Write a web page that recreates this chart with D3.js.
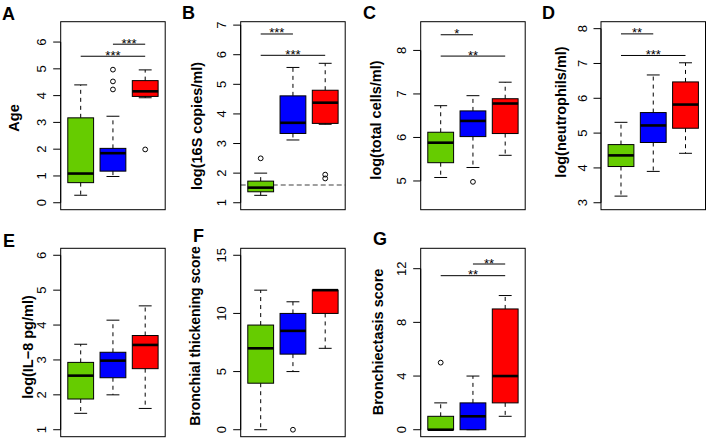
<!DOCTYPE html>
<html><head><meta charset="utf-8">
<script src="https://cdn.jsdelivr.net/npm/d3@7/dist/d3.min.js"></script>
<style>
body{margin:0;background:#fff}
svg{display:block}
text{font-family:"Liberation Sans",Arial,Helvetica,sans-serif}
</style>
</head><body>
<svg id="chart" width="708" height="440"></svg>
<script>
// ---- data ----
const groupColors = ["#66cc00", "#0000ff", "#ff0000"];
const groups = [1, 2, 3];

// box stats per group: [whisker low, Q1, median, Q3, whisker high]
const ageStats = [[0.28, 0.75, 1.09, 3.17, 4.40], [0.98, 1.18, 1.85, 2.03, 3.23], [3.92, 3.97, 4.16, 4.56, 4.96]];
const ageOutliers = [[], [4.23, 4.53, 4.97], [1.99]];
const ageTicks = [0, 1, 2, 3, 4, 5, 6];
const ageSig = [[2, 3, 5.92, "***"], [1, 3, 5.47, "***"]];

const copiesStats = [[1.25, 1.37, 1.51, 1.73, 2.0], [3.12, 3.34, 3.70, 4.61, 5.57], [3.65, 3.68, 4.38, 4.80, 5.71]];
const copiesOutliers = [[2.5], [], [1.95, 1.82]];
const copiesTicks = [1, 2, 3, 4, 5, 6, 7];
const copiesSig = [[1, 2, 6.70, "***"], [1, 3, 5.98, "***"]];
const copiesDetection = 1.6;

const cellsStats = [[5.08, 5.42, 5.88, 6.12, 6.73], [5.31, 6.02, 6.38, 6.61, 6.96], [5.59, 6.09, 6.78, 6.89, 7.27]];
const cellsOutliers = [[], [4.98], []];
const cellsTicks = [5, 6, 7, 8];
const cellsSig = [[1, 2, 8.36, "*"], [1, 3, 7.87, "**"]];

const neutroStats = [[3.19, 4.04, 4.36, 4.67, 5.31], [3.90, 4.73, 5.22, 5.59, 6.67], [4.42, 5.14, 5.82, 6.47, 7.02]];
const neutroOutliers = [[], [], []];
const neutroTicks = [3, 4, 5, 6, 7, 8];
const neutroSig = [[1, 2, 7.85, "**"], [1, 3, 7.23, "***"]];

const il8Stats = [[1.47, 1.88, 2.55, 2.93, 3.45], [2.0, 2.49, 2.98, 3.22, 4.14], [1.61, 2.75, 3.43, 3.70, 4.55]];
const il8Outliers = [[], [], []];
const il8Ticks = [1, 2, 3, 4, 5, 6];
const il8Sig = [];

const thickStats = [[0, 4, 7, 9, 12], [5, 6.5, 8.5, 10, 11], [7, 10, 12, 12, 12]];
const thickOutliers = [[], [0], []];
const thickTicks = [0, 5, 10, 15];
const thickSig = [];

const bronchStats = [[0, 0, 0, 1, 2], [0, 0, 1, 2, 4], [1, 2, 4, 9, 10]];
const bronchOutliers = [[5], [], []];
const bronchTicks = [0, 4, 8, 12];
const bronchSig = [[2, 3, 12.35, "**"], [1, 3, 11.48, "**"]];

// ---- layout ----
const panels = [
  {letter: "A", label: "Age", stats: ageStats, out: ageOutliers, ticks: ageTicks, sig: ageSig, ylim: [0, 6.5],
   x: 60.7, y: 21.7, h: 188, lab: [-42, 118], fs: 14.5, let: [2, 20]},
  {letter: "B", label: "log(16S copies/ml)", stats: copiesStats, out: copiesOutliers, ticks: copiesTicks, sig: copiesSig, ylim: [1.0, 6.88],
   x: 240.7, y: 21.7, h: 188, lab: [-39, 126], fs: 14.5, let: [182, 19], ref: copiesDetection},
  {letter: "C", label: "log(total cells/ml)", stats: cellsStats, out: cellsOutliers, ticks: cellsTicks, sig: cellsSig, ylim: [4.5, 8.5],
   x: 420.7, y: 21.7, h: 188, lab: [-40, 120], fs: 14.5, let: [363, 19]},
  {letter: "D", label: "log(neutrophils/ml)", stats: neutroStats, out: neutroOutliers, ticks: neutroTicks, sig: neutroSig, ylim: [3, 8],
   x: 601, y: 21.7, h: 188, lab: [-35, 112], fs: 14.5, let: [542, 19]},
  {letter: "E", label: "log(IL\u22128 pg/ml)", stats: il8Stats, out: il8Outliers, ticks: il8Ticks, sig: il8Sig, ylim: [1, 6],
   x: 60.7, y: 248.3, h: 188.4, lab: [-27.5, 347], fs: 14.5, let: [3, 247]},
  {letter: "F", label: "Bronchial thickening score", stats: thickStats, out: thickOutliers, ticks: thickTicks, sig: thickSig, ylim: [0, 15],
   x: 240.7, y: 248.3, h: 188.4, lab: [-41, 336], fs: 14, let: [193, 242]},
  {letter: "G", label: "Bronchiectasis score", stats: bronchStats, out: bronchOutliers, ticks: bronchTicks, sig: bronchSig, ylim: [0, 13],
   x: 420.7, y: 248.3, h: 188.4, lab: [-38, 342], fs: 14.5, let: [373, 245]}
];
const panelW = 104.5;

const svg = d3.select("#chart");

panels.forEach(p => {
  const g = svg.append("g");
  const xs = d3.scaleLinear().domain([0.5 - 0.12, 3.5 + 0.12]).range([p.x, p.x + panelW]);
  const R = p.ylim[1] - p.ylim[0];
  const ys = d3.scaleLinear().domain([p.ylim[0] - 0.04 * R, p.ylim[1] + 0.04 * R]).range([p.y + p.h, p.y]);
  const bw = xs(0.4) - xs(0);

  if (p.ref !== undefined) {
    g.append("line").attr("x1", p.x).attr("x2", p.x + panelW)
      .attr("y1", ys(p.ref)).attr("y2", ys(p.ref))
      .attr("stroke", "#808080").attr("stroke-width", 1.5).attr("stroke-dasharray", "5,3");
  }

  groups.forEach((gr, i) => {
    const s = p.stats[i];
    const cx = xs(gr);
    // whiskers
    g.append("line").attr("x1", cx).attr("x2", cx).attr("y1", ys(s[3])).attr("y2", ys(s[4]))
      .attr("stroke", "#000").attr("stroke-width", 1).attr("stroke-dasharray", "4,4");
    g.append("line").attr("x1", cx).attr("x2", cx).attr("y1", ys(s[1])).attr("y2", ys(s[0]))
      .attr("stroke", "#000").attr("stroke-width", 1).attr("stroke-dasharray", "4,4");
    // staples
    [s[0], s[4]].forEach(v => {
      g.append("line").attr("x1", cx - bw / 2).attr("x2", cx + bw / 2).attr("y1", ys(v)).attr("y2", ys(v))
        .attr("stroke", "#000").attr("stroke-width", 1);
    });
    // box
    g.append("rect").attr("x", cx - bw).attr("width", 2 * bw)
      .attr("y", ys(s[3])).attr("height", Math.max(0, ys(s[1]) - ys(s[3])))
      .attr("fill", groupColors[i]).attr("stroke", "#000").attr("stroke-width", 1);
    // median
    g.append("line").attr("x1", cx - bw).attr("x2", cx + bw).attr("y1", ys(s[2])).attr("y2", ys(s[2]))
      .attr("stroke", "#000").attr("stroke-width", 2.6);
    // outliers
    p.out[i].forEach(v => {
      g.append("circle").attr("cx", cx).attr("cy", ys(v)).attr("r", 2.4)
        .attr("fill", "none").attr("stroke", "#000").attr("stroke-width", 1);
    });
  });

  // frame
  g.append("rect").attr("x", p.x).attr("y", p.y).attr("width", panelW).attr("height", p.h)
    .attr("fill", "none").attr("stroke", "#000").attr("stroke-width", 1);

  // y axis
  g.append("line").attr("x1", p.x).attr("x2", p.x)
    .attr("y1", ys(p.ticks[0])).attr("y2", ys(p.ticks[p.ticks.length - 1]))
    .attr("stroke", "#000").attr("stroke-width", 1);
  p.ticks.forEach(t => {
    g.append("line").attr("x1", p.x - 7.5).attr("x2", p.x).attr("y1", ys(t)).attr("y2", ys(t))
      .attr("stroke", "#000").attr("stroke-width", 1);
    g.append("text").attr("transform", `translate(${p.x - 14.5},${ys(t)}) rotate(-90)`)
      .attr("text-anchor", "middle")
      .attr("font-size", 13).attr("fill", "#000").text(t);
  });

  // significance bars
  p.sig.forEach(([a, b, v, stars]) => {
    g.append("line").attr("x1", xs(a)).attr("x2", xs(b)).attr("y1", ys(v)).attr("y2", ys(v))
      .attr("stroke", "#000").attr("stroke-width", 1);
    g.append("text").attr("x", (xs(a) + xs(b)) / 2).attr("y", ys(v) + 3.5)
      .attr("text-anchor", "middle").attr("font-size", 13).attr("fill", "#000").text(stars);
  });

  // y label
  g.append("text").attr("transform", `translate(${p.x + p.lab[0]},${p.lab[1]}) rotate(-90)`)
    .attr("text-anchor", "middle").attr("font-size", p.fs).attr("font-weight", "bold")
    .attr("fill", "#000").text(p.label);

  // panel letter
  g.append("text").attr("x", p.let[0]).attr("y", p.let[1])
    .attr("font-size", 18).attr("font-weight", "bold").attr("fill", "#000").text(p.letter);
});
</script>
</body></html>
